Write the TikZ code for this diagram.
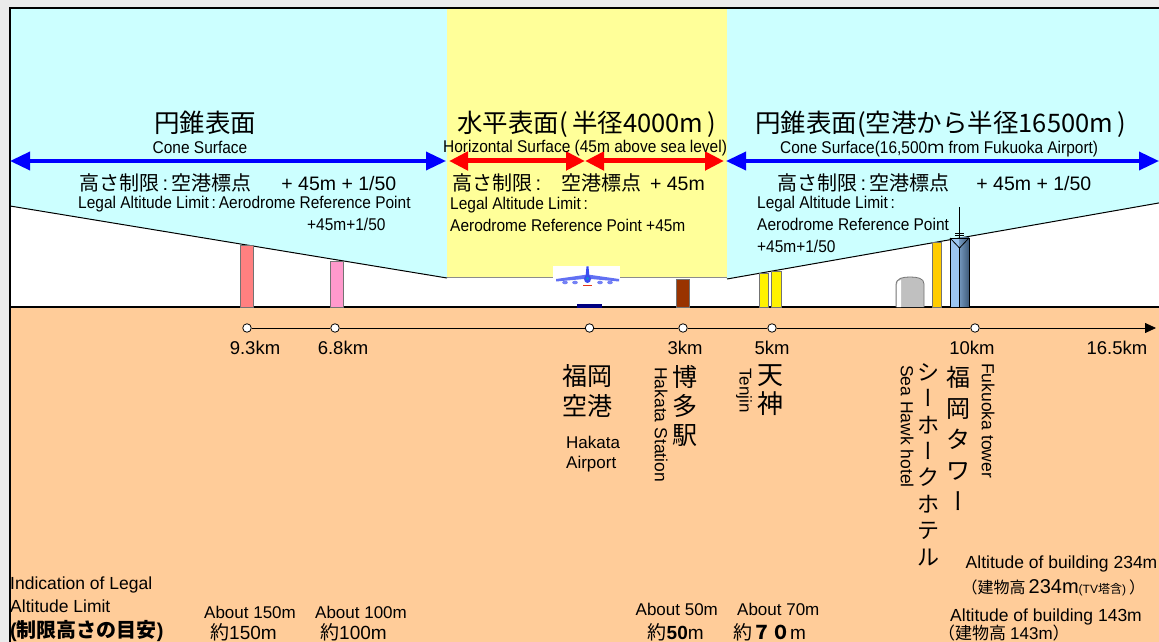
\documentclass[tikz,border=0pt]{standalone}
\usepackage{fontspec}
\setmainfont{Liberation Sans}
\newfontfamily\narrow[FakeStretch=0.91]{Liberation Sans}
\newfontfamily\cjk{Noto Sans CJK JP}
\newfontfamily\cjkvert[Vertical=Alternates]{Noto Sans CJK JP}
\usetikzlibrary{arrows.meta}

\definecolor{conecyan}{HTML}{CCFFFF}
\definecolor{flatyellow}{HTML}{FFFF99}
\definecolor{groundtan}{HTML}{FFCC99}
\definecolor{pagegrey}{HTML}{EBEBEB}
\definecolor{bldred}{HTML}{FF8080}
\definecolor{bldpink}{HTML}{FF99CC}
\definecolor{bldbrown}{HTML}{993300}
\definecolor{bldorange}{HTML}{FFCC00}
\definecolor{hotelgrey}{HTML}{C0C0C0}
\definecolor{towerlight}{HTML}{9CC6F2}
\definecolor{towerdark}{HTML}{3F5B7A}
\definecolor{runway}{HTML}{000080}
\definecolor{planeblue}{HTML}{3A4CF0}

\newcommand\px[2]{\fontsize{#1bp}{#2bp}\selectfont}
\newcommand\longvowel{{\cjkvert ー}}

\begin{document}
\begin{tikzpicture}[x=1bp,y=-1bp,
    lbl/.style={inner sep=0pt,anchor=base west},
    mid/.style={inner sep=0pt,anchor=base},
    upright/.style={inner sep=0pt,rotate=-90,anchor=west},
    stack/.style={inner sep=0pt,align=center},
    bld/.style={draw=black!55,line width=0.8bp},
    bluespan/.style={{Triangle[length=20bp,width=18bp]}-{Triangle[length=20bp,width=18bp]},line width=3.5bp,blue},
    redspan/.style={{Triangle[length=19bp,width=18bp]}-{Triangle[length=19bp,width=18bp]},line width=5bp,red},
    tick/.style={circle,draw,fill=white,inner sep=0pt,minimum size=8.5bp,line width=0.8bp}]
\useasboundingbox (0,0) rectangle (1159,642);
\clip (0,0) rectangle (1159,642);
\fill[pagegrey] (0,0) rectangle (1159,642);
\fill[white] (10,8) rectangle (1170,650);

% limit surfaces
\fill[conecyan] (10,8) -- (447,8) -- (447,278) -- (10,206) -- cycle;
\fill[conecyan] (727,8) -- (1170,8) -- (1170,201) -- (727,279) -- cycle;
\fill[flatyellow] (447,8) rectangle (727,278);
\draw[black!45,line width=1bp] (447,278) -- (727,278);
\draw[line width=1bp] (10,206) -- (447,278);
\draw[line width=1bp] (727,279) -- (1170,201);

% ground
\fill[groundtan] (10,307) rectangle (1170,650);
\draw[line width=1.2bp] (10,307) -- (1170,307);
\draw[line width=1.5bp] (10,650) -- (10,8) -- (1170,8);

% buildings
\filldraw[bld,fill=bldred] (240,245) rectangle (253,307);
\filldraw[bld,fill=bldpink] (330,261) rectangle (343,307);
\filldraw[bld,fill=bldbrown] (676,279) rectangle (689,307);
\filldraw[bld,fill=yellow] (759,273) rectangle (768,307);
\filldraw[bld,fill=yellow] (771,271) rectangle (781,307);
\filldraw[bld,fill=hotelgrey] (896,307) -- (896,285) .. controls (896,278) and (903,277) .. (910,277)
    .. controls (917,277) and (924,278) .. (924,284) -- (924,307);
\fill[white] (897,307) -- (897,286) .. controls (897,281) and (899,280) .. (901,280) -- (901,307) -- cycle;
\filldraw[bld,fill=bldorange] (932,242) rectangle (941,307);
\fill[towerlight] (950,238) rectangle (959.5,307);
\shade[left color=towerlight!55!towerdark,right color=towerdark] (959.5,238) rectangle (969,307);
\draw[line width=0.8bp] (950,238) rectangle (969,307);
\draw[line width=0.8bp] (950,238) -- (959.5,248) -- (969,238);
\draw[line width=0.8bp] (959.5,248) -- (959.5,307);
\draw[line width=0.8bp] (959.5,207) -- (959.5,238);
\draw[line width=0.8bp] (955,233) -- (964,233) (955,235.5) -- (964,235.5);

% airport: plane and runway
\fill[white] (553,266) rectangle (620,287);
\fill[planeblue!80] (556,279) -- (584,275) -- (591,275) -- (619,279) -- (619,281.5) -- (591,279) -- (584,279) -- (556,281.5) -- cycle;
\fill[planeblue] (586.5,266.5) -- (588.5,266.5) -- (589.5,277) -- (585.5,277) -- cycle;
\fill[planeblue] (587.5,279) ellipse (3.5bp and 4bp);
\fill[cyan!70!blue] (587.5,278.5) circle (1.6bp);
\foreach \ex in {565,575,600,610} \fill[planeblue!70] (\ex,282.5) ellipse (2.8bp and 1.8bp);
\fill[red!60!brown] (583,285) rectangle (592,286.5);
\fill[runway] (577,304) rectangle (602,308);

% surface spans
\coordinate (coneLa) at (10,161);
\coordinate (coneLb) at (446,161);
\coordinate (flatA) at (449,161);
\coordinate (flatM) at (585,161);
\coordinate (flatB) at (724,161);
\coordinate (coneRa) at (726,161);
\coordinate (coneRb) at (1159,161);
\draw[bluespan] (coneLa) -- (coneLb);
\draw[bluespan] (coneRa) -- (coneRb);
\draw[redspan] (flatA) -- (flatM);
\draw[redspan] (flatM) -- (flatB);

% distance axis
\node[tick] (t93) at (247,328) {};
\node[tick] (t68) at (335,328) {};
\node[tick] (tapt) at (589.5,328) {};
\node[tick] (t3) at (683,328) {};
\node[tick] (t5) at (772,328) {};
\node[tick] (t10) at (975,328) {};
\coordinate (axisend) at (1156,328);
\draw[line width=0.8bp] (t93) -- (t68);
\draw[line width=0.8bp] (t68) -- (tapt);
\draw[line width=0.8bp] (tapt) -- (t3);
\draw[line width=0.8bp] (t3) -- (t5);
\draw[line width=0.8bp] (t5) -- (t10);
\draw[line width=0.8bp,-{Triangle[length=11bp,width=10bp]}] (t10) -- (axisend);

\node[mid] (k93) at (255,354) {\px{18.5}{22}9.3km};
\node[mid] (k68) at (343,354) {\px{18.5}{22}6.8km};
\node[mid] (k3) at (685,354) {\px{18.5}{22}3km};
\node[mid] (k5) at (772,354) {\px{18.5}{22}5km};
\node[mid] (k10) at (972,354) {\px{18.5}{22}10km};
\node[mid] (k165) at (1117,354) {\px{18.5}{22}16.5km};

% cone surface, left
\node[mid] (coneLjp) at (205,133) {\cjk\px{25.5}{30}円錐表面};
\node[mid] (coneLen) at (200,154) {\narrow\px{17}{20}Cone Surface};
\node[lbl] (limitLjp) at (79,191) {\px{20}{24}{\cjk 高さ制限}\,:\,{\cjk 空港標点}\hspace{30bp}\px{19.5}{24}+ 45m + 1/50};
\node[lbl] (limitLen) at (78,209) {\narrow\px{17}{20}Legal Altitude Limit\,:\,Aerodrome Reference Point};
\node[lbl] (limitLen2) at (307,231) {\narrow\px{17}{20}+45m+1/50};

% horizontal surface
\node[lbl] (flatjp) at (457,133) {\cjk\px{25.5}{30}水平表面(\,半径4000m\,)};
\node[lbl] (flaten) at (443,153) {\narrow\px{17}{20}Horizontal Surface (45m above sea level)};
\node[lbl] (limitMjp) at (452,191) {\px{20}{24}{\cjk 高さ制限}\,:\hspace{20bp}{\cjk 空港標点}\hspace{9bp}\px{19.5}{24}+ 45m};
\node[lbl] (limitMen) at (450,210) {\narrow\px{17}{20}Legal Altitude Limit\,:};
\node[lbl] (limitMen2) at (450,231.5) {\narrow\px{17}{20}Aerodrome Reference Point +45m};

% cone surface, right
\node[lbl] (coneRjp) at (755,133) {\cjk\px{25.5}{30}円錐表面(空港から半径16500m\,)};
\node[lbl] (coneRen) at (780,154) {\narrow\px{17}{20}Cone Surface(16,500{\cjk ｍ} from Fukuoka Airport)};
\node[lbl] (limitRjp) at (777,191) {\px{20}{24}{\cjk 高さ制限}\,:\,{\cjk 空港標点}\hspace{27bp}\px{19.5}{24}+ 45m + 1/50};
\node[lbl] (limitRen) at (757,209) {\narrow\px{17}{20}Legal Altitude Limit\,:};
\node[lbl] (limitRen2) at (757,231) {\narrow\px{17}{20}Aerodrome Reference Point};
\node[lbl] (limitRen3) at (757,253) {\narrow\px{17}{20}+45m+1/50};

% places
\node[stack,anchor=west,align=left,font=\cjk\px{25}{29.5}] (aptjp) at (562,391) {福岡\\空港};
\node[lbl] (apten) at (566,448) {\px{17}{20}Hakata};
\node[lbl] (apten2) at (566,468) {\px{17}{20}Airport};
\node[upright] (hakataen) at (661,367) {\px{17.5}{20}Hakata Station};
\node[stack,font=\cjk\px{25}{29}] (hakatajp) at (685,406) {博\\多\\駅};
\node[upright] (tenjinen) at (744,368) {\px{17}{20}Tenjin};
\node[stack,font=\cjk\px{26}{28.5}] (tenjinjp) at (770,390) {天\\神};
\node[upright] (hotelen) at (907,365) {\px{17.5}{20}Sea Hawk hotel};
\node[stack,font=\cjk\px{22}{26.4}] (hoteljp) at (928,464.5) {シ\\\longvowel\\ホ\\\longvowel\\ク\\ホ\\テ\\ル};
\node[stack,font=\cjk\px{24}{30.8}] (towerjp) at (958,438.5) {福\\岡\\タ\\ワ\\\longvowel};
\node[upright] (toweren) at (988,363) {\px{17.5}{20}Fukuoka tower};

% heights
\node[lbl] (legend1) at (10,589) {\px{17.5}{20}Indication of Legal};
\node[lbl] (legend2) at (10,612) {\px{17.5}{20}Altitude Limit};
\node[lbl] (legend3) at (10,637) {\px{20}{24}\bfseries({\cjk 制限高さの目安})};
\node[lbl] (h150en) at (204,618) {\px{17}{20}About 150m};
\node[lbl] (h150jp) at (210,639) {\px{19}{22}{\cjk 約}150m};
\node[lbl] (h100en) at (315,618) {\px{17}{20}About 100m};
\node[lbl] (h100jp) at (320,639) {\px{19}{22}{\cjk 約}100m};
\node[lbl] (h50en) at (635.5,615) {\px{17}{20}About 50m};
\node[lbl] (h50jp) at (647.5,639) {\px{19}{22}{\cjk 約}\textbf{50}m};
\node[lbl] (h70en) at (737,615) {\px{17}{20}About 70m};
\node[lbl] (h70jp) at (733,639) {\px{19}{22}{\cjk 約\bfseries ７０}m};
\node[lbl] (h234en) at (965.5,568) {\px{17.5}{20}Altitude of building 234m};
\node[lbl] (h234jp) at (961.5,593) {\px{16}{20}{\cjk （建物高}\hspace{3bp}{\px{20}{22}234m}{\px{12}{14}(TV{\cjk 塔含})}\hspace{3bp}{\cjk ）}};
\node[lbl] (h143en) at (950,621) {\px{17.5}{20}Altitude of building 143m};
\node[lbl] (h143jp) at (938,639) {\px{17}{20}{\cjk （建物高}\hspace{4bp}143m{\cjk ）}};
\end{tikzpicture}
\end{document}
